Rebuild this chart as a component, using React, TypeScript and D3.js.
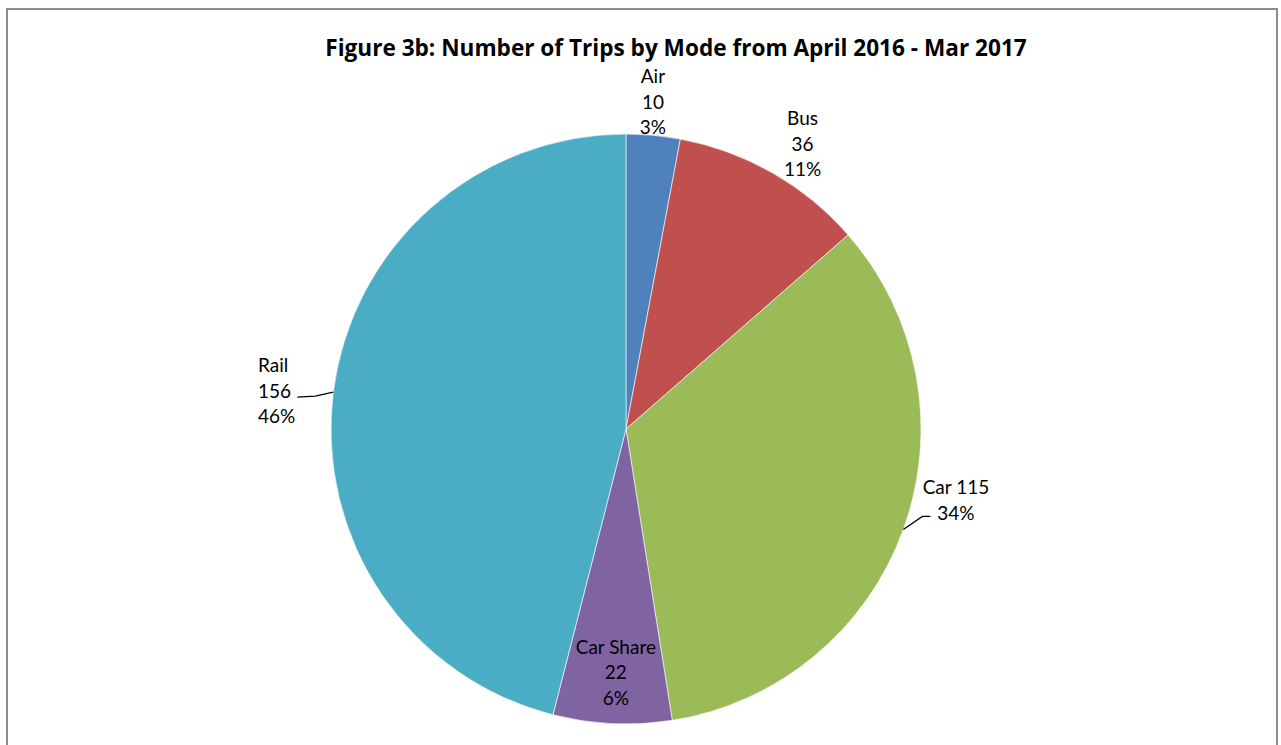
import React from "react";
import * as d3 from "d3";

const modes = ["Air", "Bus", "Car", "Car Share", "Rail"];
const trips = [10, 36, 115, 22, 156];
const colours = ["#4F81BD", "#C0504D", "#9BBB59", "#8064A2", "#4BACC6"];

const title = "Figure 3b: Number of Trips by Mode from April 2016 - Mar 2017";

// label placement: polar position (radius, degrees clockwise from top) of the label block
const labelSpots: { [k: string]: { r: number; a: number; anchor: string; lines: "stack" | "inline"; leader?: number[][] } } = {
  "Air": { r: 329, a: 4.7, anchor: "middle", lines: "stack" },
  "Bus": { r: 336, a: 31.7, anchor: "middle", lines: "stack" },
  "Car": { r: 337.4, a: 102.06, anchor: "middle", lines: "inline", leader: [[19, -13], [27, -13]] },
  "Car Share": { r: 243, a: 182.4, anchor: "middle", lines: "stack" },
  "Rail": { r: 370, a: 276.05, anchor: "start", lines: "stack", leader: [[-18, 4], [-36, 5]] },
};

const width = 1281, height = 745;
const cx = 626, cy = 429, radius = 295;
const lineH = 25.5;
const font = "Lato, 'Open Sans', sans-serif";

const polar = (r: number, deg: number) => {
  const t = (deg * Math.PI) / 180;
  return [r * Math.sin(t), -r * Math.cos(t)];
};

const App = () => {
  const data = modes.map((m, i) => ({ mode: m, value: trips[i], colour: colours[i] }));
  const total = d3.sum(trips);
  const pct = d3.format(".0%");

  const pie = d3.pie<any>().value(d => d.value).sort(null);
  const arc = d3.arc<any>().innerRadius(0).outerRadius(radius);
  const arcs = pie(data);

  return (
    <svg width={width} height={height} style={{ position: "fixed", left: 0, top: 0, background: "#fff" }}>
      <rect x={7} y={9} width={1270} height={760} fill="#fff" stroke="#8c8c8c" strokeWidth={2} />
      <text x={676} y={47} textAnchor="middle" dominantBaseline="central" fontFamily="'Open Sans', sans-serif" fontWeight="bold" fontSize={22.6} fill="#000">
        {title}
      </text>
      <g transform={`translate(${cx},${cy})`}>
        {arcs.map((a, i) => (
          <path key={i} d={arc(a) as string} fill={a.data.colour} stroke="#fff" strokeWidth={0.6} />
        ))}
        {arcs.map((a, i) => {
          const spot = labelSpots[a.data.mode];
          const [lx, ly] = polar(spot.r, spot.a);
          const valTxt = String(a.data.value);
          const pTxt = pct(a.data.value / total);
          const lines = spot.lines === "stack"
            ? [a.data.mode, valTxt, pTxt]
            : [`${a.data.mode} ${valTxt}`, pTxt];
          const y0 = ly - ((lines.length - 1) * lineH) / 2;
          const mid = ((a.startAngle + a.endAngle) / 2) * 180 / Math.PI;
          const [sx, sy] = polar(radius, mid);
          return (
            <g key={"l" + i}>
              {spot.leader && (
                <path
                  d={d3.line()([[sx, sy], ...spot.leader.map(p => [sx + p[0], sy + p[1]] as [number, number])]) as string}
                  fill="none" stroke="#000" strokeWidth={1.3}
                />
              )}
              {lines.map((t, j) => (
                <text key={j} x={lx} y={y0 + j * lineH} textAnchor={spot.anchor} dominantBaseline="central"
                  fontFamily={font} fontSize={19} fill="#000">{t}</text>
              ))}
            </g>
          );
        })}
      </g>
    </svg>
  );
};

export default App;
